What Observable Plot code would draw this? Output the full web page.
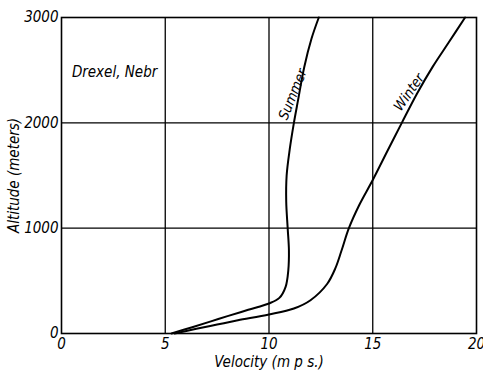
<!DOCTYPE html>
<html>
<head>
<meta charset="utf-8">
<script src="https://cdn.jsdelivr.net/npm/d3@7"></script>
<script src="https://cdn.jsdelivr.net/npm/@observablehq/plot@0.6"></script>
<style>
  html, body { margin: 0; padding: 0; background: #fff; }
  #chart svg { display: block; }
</style>
</head>
<body>
<div id="chart"></div>
<script>
// Data
const summerVelocity = [5.3, 6.3, 7.2, 8.0, 9.0, 10.0, 10.5, 10.8, 10.93, 10.96, 10.9, 10.83, 10.85, 11.0, 11.2, 11.4, 11.7, 12.05, 12.4];
const summerAltitude = [0, 60, 115, 165, 225, 285, 338, 443, 600, 790, 1000, 1250, 1500, 1750, 2000, 2215, 2530, 2800, 3000];
const winterVelocity = [5.45, 6.5, 7.5, 8.5, 10.0, 11.2, 12.0, 12.8, 13.2, 13.5, 13.85, 14.35, 15.0, 15.7, 16.4, 17.15, 17.9, 18.65, 19.45];
const winterAltitude = [0, 45, 85, 125, 180, 237, 316, 470, 620, 790, 1000, 1220, 1457, 1730, 2000, 2283, 2536, 2760, 3000];
const xTicks = [0, 5, 10, 15, 20];
const yTicks = [0, 1000, 2000, 3000];
const xGrid = [5, 10, 15];
const yGrid = [1000, 2000];
const seriesLabels = [
  {name: "Summer", v: 11.15, a: 2270, angle: -68},
  {name: "Winter", v: 16.75, a: 2290, angle: -55}
];
const stationLabel = "Drexel, Nebr";
const xLabel = "Velocity (m p s.)";
const yLabel = "Altitude (meters)";

const summer = summerVelocity.map((v, i) => ({v, a: summerAltitude[i]}));
const winter = winterVelocity.map((v, i) => ({v, a: winterAltitude[i]}));

const font = "'DejaVu Sans Condensed', 'Liberation Sans Narrow', 'DejaVu Sans', sans-serif";

const chart = Plot.plot({
  width: 483,
  height: 372,
  marginLeft: 61,
  marginRight: 7,
  marginTop: 17,
  marginBottom: 39,
  style: {fontFamily: font, fontStyle: "italic", fontSize: "14px", color: "#000", background: "#fff"},
  x: {domain: [0, 20]},
  y: {domain: [0, 3000]},
  marks: [
    Plot.ruleX(xGrid, {stroke: "#000", strokeWidth: 1.3}),
    Plot.ruleY(yGrid, {stroke: "#000", strokeWidth: 1.3}),
    Plot.frame({stroke: "#000", strokeWidth: 1.6}),
    Plot.axisX({ticks: xTicks, tickSize: 0, tickPadding: 5, label: null, tickFormat: d => String(d), fontSize: 15}),
    Plot.axisY({ticks: yTicks, tickSize: 0, tickPadding: 3, label: null, tickFormat: d => String(d), fontSize: 15}),
    Plot.line(summer, {x: "v", y: "a", curve: "catmull-rom", stroke: "#000", strokeWidth: 2}),
    Plot.line(winter, {x: "v", y: "a", curve: "catmull-rom", stroke: "#000", strokeWidth: 2}),
    Plot.text(seriesLabels.slice(0, 1), {x: "v", y: "a", text: "name", rotate: seriesLabels[0].angle, fontSize: 14, textAnchor: "middle", fill: "#000"}),
    Plot.text(seriesLabels.slice(1, 2), {x: "v", y: "a", text: "name", rotate: seriesLabels[1].angle, fontSize: 14, textAnchor: "middle", fill: "#000"}),
    Plot.text([stationLabel], {x: 0.5, y: 2480, text: d => d, textAnchor: "start", fontSize: 15, fill: "#000"}),
    Plot.text([xLabel], {frameAnchor: "bottom", dy: 33, text: d => d, textAnchor: "middle", fontSize: 15, fill: "#000"}),
    Plot.text([yLabel], {frameAnchor: "left", dx: -47, rotate: -90, text: d => d, textAnchor: "middle", fontSize: 15, fill: "#000"})
  ]
});
document.getElementById("chart").appendChild(chart);
</script>
</body>
</html>
